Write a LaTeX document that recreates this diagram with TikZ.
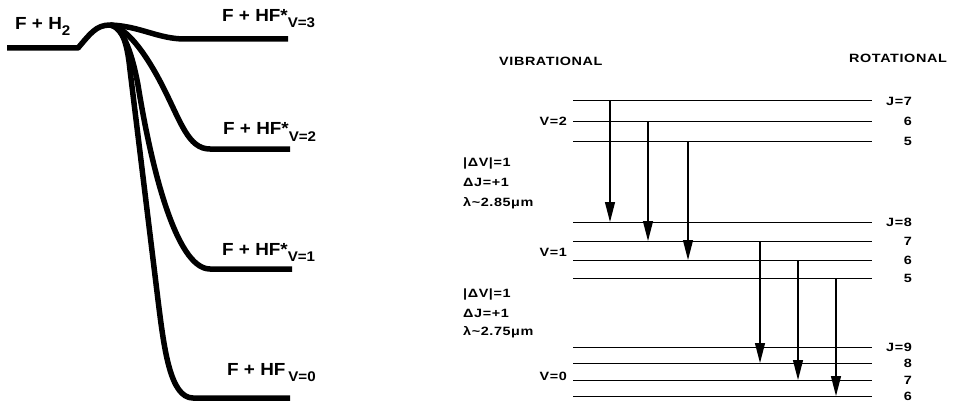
\documentclass[tikz,border=0pt]{standalone}
\usepackage{fontspec}
\setmainfont{Liberation Sans}
\newfontfamily\labfont[FakeStretch=1.2,LetterSpace=5]{Liberation Sans}
\newfontfamily\bigfont[FakeStretch=1.08]{Liberation Sans}
\usetikzlibrary{arrows.meta}
\begin{document}
\begin{tikzpicture}[x=1pt,y=-1pt,
  pes/.style={line width=5.5pt, line join=round},
  lvl/.style={line width=1pt},
  trans/.style={line width=1.3pt, -{Triangle[length=20pt,width=10pt]}},
  big/.style={font=\bigfont\fontsize{17.5}{17.5}\selectfont\bfseries, inner sep=0pt},
  lab/.style={font=\labfont\fontsize{12}{13}\selectfont\bfseries, inner sep=0pt}]
\newcommand\sbs[1]{\raisebox{-6pt}{\fontsize{14}{14}\selectfont #1}}
\useasboundingbox (0,0) rectangle (954,404);

% ---------- potential energy curves ----------
\coordinate (pk) at (110,25);
\draw[pes] (7,48) -- (78,48) .. controls (90,34) and (96,25) .. (pk);
\draw[pes] (pk) .. controls (140,26) and (158,39) .. (185,39) -- (288,39);
\draw[pes] (pk) .. controls (126,27) and (145,52) .. (162,85)
               .. controls (181,122) and (188,149) .. (210,149) -- (290,149);
\draw[pes] (pk) .. controls (124,27) and (133,58) .. (138,85)
               .. controls (150,160) and (175,269) .. (210,269) -- (292,269);
\draw[pes] (pk) .. controls (121,26) and (127,40) .. (130,70)
               -- (158,300) .. controls (164,348) and (170,398) .. (193,398) -- (290,398);

\node[big, anchor=base west] (r) at (15,30) {F + H\sbs{2}};
\node[big, anchor=base west] (p3) at (222,22) {F + HF*\sbs{V=3}};
\node[big, anchor=base west] (p2) at (223,135) {F + HF*\sbs{V=2}};
\node[big, anchor=base west] (p1) at (222,255) {F + HF*\sbs{V=1}};
\node[big, anchor=base west] (p0) at (227,375) {F + HF\,\sbs{V=0}};

% ---------- level diagram ----------
\node[lab, anchor=west] (vib) at (499,61) {VIBRATIONAL};
\node[lab, anchor=east] (rot) at (947,58) {ROTATIONAL};

\foreach \n/\y/\t in {a7/101/J=7, a6/121/6, a5/141/5,
                      b8/222/J=8, b7/241/7, b6/260/6, b5/278/5,
                      c9/347/J=9, c8/363/8, c7/380/7, c6/396/6}{
  \coordinate (\n L) at (573,\y);
  \coordinate (\n R) at (872,\y);
  \draw[lvl] (\n L) -- (\n R);
  \node[lab, anchor=east] (\n t) at (912,\y) {\t};
}

\node[lab, anchor=east] (v2) at (567,121) {V=2};
\node[lab, anchor=east] (v1) at (567,252) {V=1};
\node[lab, anchor=east] (v0) at (567,376) {V=0};

\node[lab, anchor=west] (d1a) at (463,163) {|ΔV|=1};
\node[lab, anchor=west] (d1b) at (463,182) {ΔJ=+1};
\node[lab, anchor=west] (d1c) at (463,203) {λ\textasciitilde 2.85μm};
\node[lab, anchor=west] (d2a) at (463,294) {|ΔV|=1};
\node[lab, anchor=west] (d2b) at (463,313) {ΔJ=+1};
\node[lab, anchor=west] (d2c) at (463,332) {λ\textasciitilde 2.75μm};

% transitions
\foreach \x/\ya/\yb in {610/101/222, 648/121/241, 688/141/260,
                         760/241/363, 798/260/380, 836/278/396}{
  \coordinate (s) at (\x,\ya);
  \coordinate (e) at (\x,\yb);
  \draw[trans] (s) -- (e);
}
\end{tikzpicture}
\end{document}
